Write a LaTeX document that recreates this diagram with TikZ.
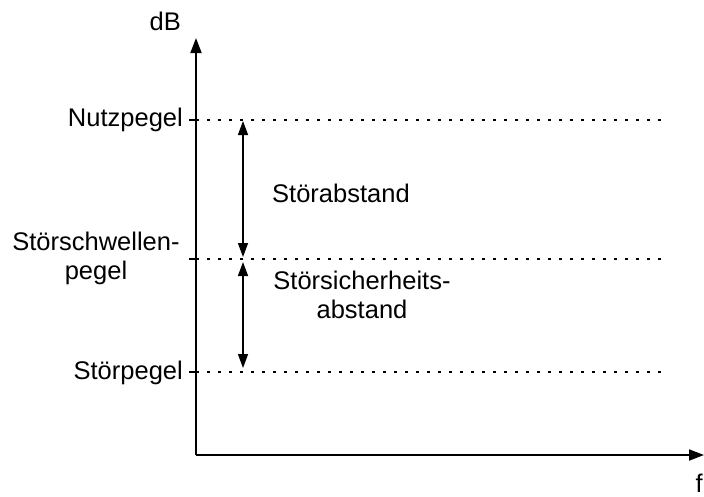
\documentclass[tikz,border=0pt]{standalone}
\usepackage{fontspec}
\setmainfont{Liberation Sans}
\usetikzlibrary{arrows.meta}
\begin{document}
\begin{tikzpicture}[x=1pt,y=-1pt,
  font=\fontsize{25.5}{29}\selectfont,
  axis/.style={line width=1.8pt, -{Triangle[length=15pt,width=11pt]}},
  level/.style={line width=1.3pt, dash pattern=on 3pt off 8pt},
  tick/.style={line width=1.3pt},
  span/.style={line width=1.5pt, {Triangle[length=14pt,width=10pt]}-{Triangle[length=14pt,width=10pt]}},
  lbl/.style={inner sep=0pt}]
\useasboundingbox (0,0) rectangle (704,496);
% axes
\coordinate (O) at (196,455);
\coordinate (ytop) at (196,38);
\coordinate (xend) at (704,455);
\draw[axis] (O) -- (ytop);
\draw[axis] (O) -- (xend);
\node[lbl, anchor=east] (dB) at (181,21) {dB};
\node[lbl, anchor=east] (f) at (703,483) {f};
% levels
\coordinate (n0) at (189,120); \coordinate (n1) at (662,120);
\coordinate (s0) at (189,259); \coordinate (s1) at (662,259);
\coordinate (p0) at (189,372); \coordinate (p1) at (662,372);
\draw[tick] (n0) -- (O |- n0);
\draw[tick] (s0) -- (O |- s0);
\draw[tick] (p0) -- (O |- p0);
\draw[level] (O |- n0) -- (n1);
\draw[level] (O |- s0) -- (s1);
\draw[level] (O |- p0) -- (p1);
% level labels
\node[lbl, anchor=east] (nutz) at (183,120) {Nutzpegel};
\node[lbl, align=center] (schw) at (96,258) {Störschwellen-\\pegel};
\node[lbl, anchor=east] (stoer) at (183,373) {Störpegel};
% spacing arrows
\coordinate (a1) at (243,121);
\coordinate (a2) at (243,257);
\coordinate (a3) at (243,262);
\coordinate (a4) at (243,368);
\draw[span] (a1) -- (a2);
\draw[span] (a3) -- (a4);
\node[lbl, anchor=west] (abst) at (272,193) {Störabstand};
\node[lbl, align=center] (sich) at (362,295) {Störsicherheits-\\abstand};
\end{tikzpicture}
\end{document}
